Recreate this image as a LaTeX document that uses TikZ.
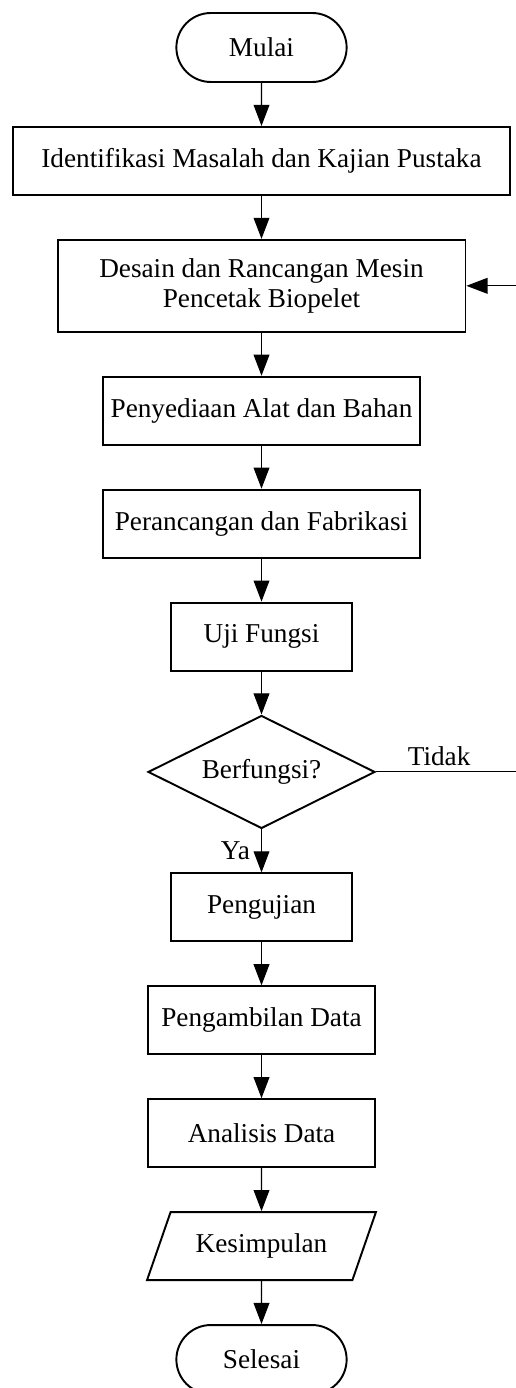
\documentclass[tikz,border=0pt]{standalone}
\usepackage{fontspec}
\setmainfont{Liberation Serif}
\usetikzlibrary{positioning, arrows.meta, shapes.geometric, shapes.misc}
\tikzset{
    termstyle/.style={rounded rectangle, draw=black, minimum width=3.64cm, minimum height=1.38cm, align=center, font=\fontsize{15.5}{17}\selectfont, line width=1.1pt},
    prosesstyle/.style={rectangle, draw=black, minimum height=1.36cm, align=center, font=\fontsize{15.5}{17}\selectfont, line width=1.1pt},
    gateway/.style={diamond, draw=black, minimum width=4.54cm, minimum height=2.26cm, aspect=2, inner sep=0pt, align=center, font=\fontsize{15.5}{17}\selectfont, line width=1.1pt},
    iostyle/.style={trapezium, trapezium left angle=63, trapezium right angle=117, trapezium stretches=true, draw=black, minimum width=4.58cm, minimum height=1.36cm, align=center, font=\fontsize{15.5}{17}\selectfont, line width=1.1pt},
    arr/.style={-{Triangle[length=12pt, width=9pt]}, line width=0.6pt, color=black},
    lbl/.style={font=\fontsize{15.5}{17}\selectfont}
}

\begin{document}
\begin{tikzpicture}[x=0.02cm, y=-0.02cm, node distance=0.86cm]
    \useasboundingbox (0,0) rectangle (516,1388);
    \node[termstyle] at (261.5,47.5) (mulai) {Mulai};
    \node[prosesstyle, minimum width=9.96cm, below=of mulai] (identifikasi) {Identifikasi Masalah dan Kajian Pustaka};
    \node[prosesstyle, minimum width=8.16cm, minimum height=1.84cm, below=of identifikasi] (desain) {Desain dan Rancangan Mesin\\Pencetak Biopelet};
    \node[prosesstyle, minimum width=6.34cm, below=of desain] (penyediaan) {Penyediaan Alat dan Bahan};
    \node[prosesstyle, minimum width=6.34cm, below=of penyediaan] (fabrikasi) {Perancangan dan Fabrikasi};
    \node[prosesstyle, minimum width=3.62cm, below=of fabrikasi] (ujifungsi) {Uji Fungsi};
    \node[gateway, below=of ujifungsi] (cek) {Berfungsi?};
    \node[prosesstyle, minimum width=3.62cm, below=of cek] (pengujian) {Pengujian};
    \node[prosesstyle, minimum width=4.54cm, below=of pengujian] (ambildata) {Pengambilan Data};
    \node[prosesstyle, minimum width=4.54cm, below=of ambildata] (analisis) {Analisis Data};
    \node[iostyle, below=of analisis] (kesimpulan) {Kesimpulan};
    \node[termstyle, below=of kesimpulan] (selesai) {Selesai};
    \coordinate (balik) at (530,772.5);
    \draw[arr] (mulai) -- (identifikasi); \draw[arr] (identifikasi) -- (desain);
    \draw[arr] (desain) -- (penyediaan); \draw[arr] (penyediaan) -- (fabrikasi);
    \draw[arr] (fabrikasi) -- (ujifungsi); \draw[arr] (ujifungsi) -- (cek);
    \draw[arr] (cek.south) -- node[lbl, left, xshift=-3pt] {Ya} (pengujian.north);
    \draw[arr] (cek.east) -- node[lbl, above, pos=0.41] {Tidak} (balik |- cek.east) |- (desain.east);
    \draw[arr] (pengujian) -- (ambildata); \draw[arr] (ambildata) -- (analisis);
    \draw[arr] (analisis) -- (kesimpulan); \draw[arr] (kesimpulan) -- (selesai);
\end{tikzpicture}
\end{document}
